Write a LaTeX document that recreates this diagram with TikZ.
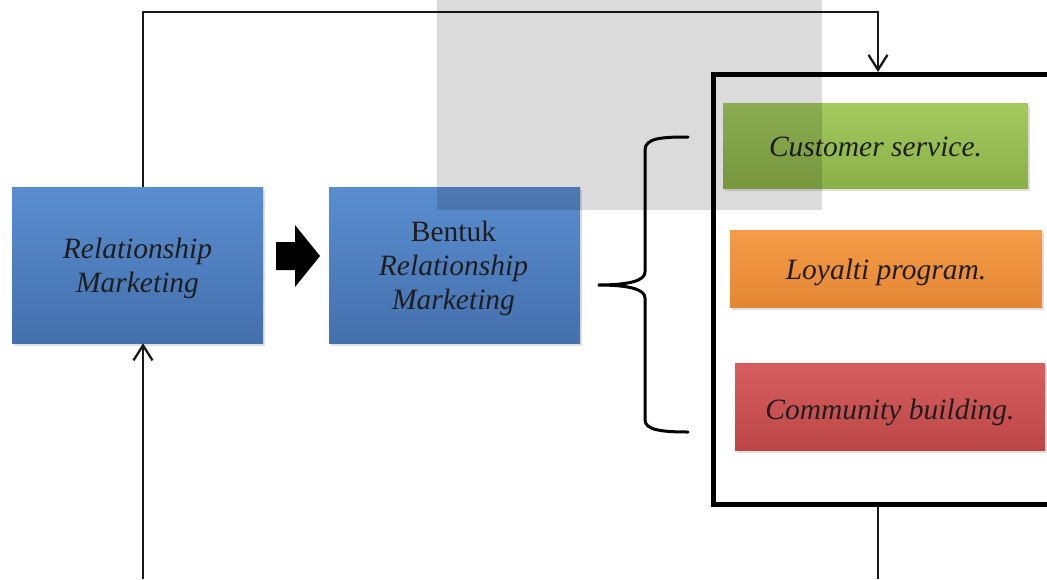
\documentclass[tikz,border=0pt]{standalone}
\usepackage{fontspec}
\setmainfont{Liberation Serif}
\usetikzlibrary{arrows.meta,shadows}
\definecolor{txtc}{HTML}{1E1E1E}
\definecolor{blueT}{HTML}{5A8DD0}
\definecolor{blueB}{HTML}{4470AC}
\definecolor{greenT}{HTML}{A3C95F}
\definecolor{greenB}{HTML}{8AB047}
\definecolor{orT}{HTML}{F49C48}
\definecolor{orB}{HTML}{E58634}
\definecolor{redT}{HTML}{D75E5E}
\definecolor{redB}{HTML}{BC4646}
\tikzset{
  boxbase/.style={rectangle, inner sep=0pt,
    drop shadow={opacity=0.25, shadow xshift=2pt, shadow yshift=-3pt}},
  bluebox/.style={boxbase, top color=blueT, bottom color=blueB},
  greenbox/.style={boxbase, top color=greenT, bottom color=greenB},
  orangebox/.style={boxbase, top color=orT, bottom color=orB},
  redbox/.style={boxbase, top color=redT, bottom color=redB},
  itxt/.style={inner sep=0pt, text=txtc, align=center,
    font=\fontsize{29.5}{34}\selectfont\itshape},
  conn/.style={draw=black!90, line width=2.3pt},
  arr/.style={conn, -{Straight Barb[length=15pt,width=19pt,line width=2.3pt]}},
}
\begin{document}
\begin{tikzpicture}[x=1pt,y=-1pt]
\useasboundingbox (0,0) rectangle (1047,579);
\clip (0,0) rectangle (1047,579);
\fill[white] (0,0) rectangle (1047,579);

% main boxes
\node[bluebox, minimum width=251pt, minimum height=156pt] (rm) at (137.5,265) {};
\node[itxt] (rmT) at ([yshift=-3pt]rm.center) {Relationship\\Marketing};
\node[bluebox, minimum width=251pt, minimum height=156pt] (brm) at (454.5,265) {};
\node[itxt] (brmT) at ([xshift=-1pt,yshift=-3.5pt]brm.center) {{\upshape Bentuk}\\Relationship\\Marketing};

% block arrow between boxes
\fill[black] (276,242) -- (295,242) -- (295,225) -- (320,256) -- (295,287) -- (295,270) -- (276,270) -- cycle;

% outer frame
\node[draw=black, line width=5pt, rectangle, minimum width=354pt, minimum height=430pt] (frame) at (890.5,289.5) {};

% inner boxes
\node[greenbox, minimum width=305pt, minimum height=85pt] (cs) at (875.5,145.5) {};
\node[itxt] (csT) at ([yshift=-1.5pt]cs.center) {Customer service.};
\node[orangebox, minimum width=312pt, minimum height=77pt] (lp) at (886,268.5) {};
\node[itxt] (lpT) at ([yshift=-3.5pt]lp.center) {Loyalti program.};
\node[redbox, minimum width=310pt, minimum height=87pt] (cb) at (890,406.5) {};
\node[itxt] (cbT) at ([yshift=-5.5pt]cb.center) {Community building.};

% brace
\draw[line width=3pt, line cap=round] (688,137) .. controls (662,137) and (645,138) .. (645,150)
  -- (645,272) .. controls (645,281) and (628,285) .. (598,285)
  .. controls (628,285) and (645,289) .. (645,298)
  -- (645,420) .. controls (645,430) and (662,432) .. (688,432);

% loop connectors
\coordinate (lx) at (143,0);
\coordinate (tr) at (878,12);
\coordinate (bl) at (143,579);
\coordinate (br) at (878,579);
\draw[arr] (lx |- rm.north) |- (tr) -- (tr |- frame.north);
\draw[arr] (bl) -- (bl |- rm.south);
\draw[conn] (br |- frame.south) -- (br);

% watermark overlay
\fill[black, opacity=0.14] (437,0) rectangle (822,210);
\end{tikzpicture}
\end{document}
